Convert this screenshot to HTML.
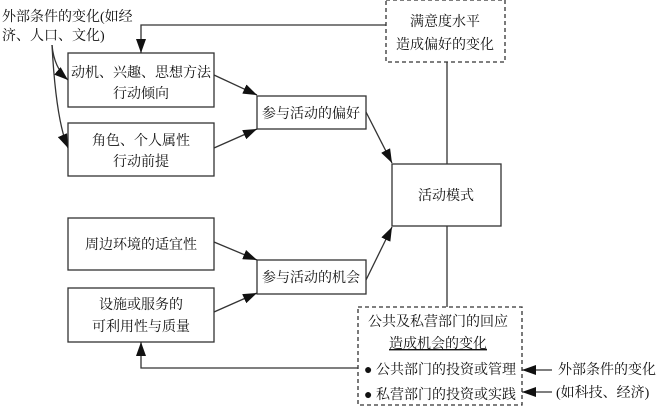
<!DOCTYPE html>
<html><head><meta charset="utf-8"><style>
body{margin:0;background:#fff;}
svg text{font-family:"Liberation Serif","Noto Serif CJK SC",serif;font-size:14px;fill:#111;}
</style></head><body>
<svg width="657" height="408" viewBox="0 0 657 408" xmlns="http://www.w3.org/2000/svg">
<defs><marker id="a" markerWidth="14" markerHeight="10" refX="14" refY="5" orient="auto" markerUnits="userSpaceOnUse"><path d="M0,0L14,5L0,10z" fill="#111"/></marker></defs>
<g fill="none" stroke="#333" stroke-width="1.3">
<rect x="68" y="53" width="146" height="54"/>
<rect x="68" y="123" width="146" height="53"/>
<rect x="257" y="96" width="109" height="33"/>
<rect x="392" y="164" width="109" height="62"/>
<rect x="68" y="218" width="146" height="52"/>
<rect x="68" y="288" width="146" height="54"/>
<rect x="257" y="260" width="109" height="34"/>
<rect x="386" y="0" width="119" height="62" stroke-dasharray="4,3"/>
<rect x="358" y="307" width="164" height="98" stroke-dasharray="4,3"/>
<path d="M447,62V164M447,226V307"/>
<path d="M386,25H141V53" marker-end="url(#a)"/>
<path d="M358,368H141V342" marker-end="url(#a)"/>
<path d="M214,75L257,95" marker-end="url(#a)"/>
<path d="M214,148L257,129" marker-end="url(#a)"/>
<path d="M366,112L392,163" marker-end="url(#a)"/>
<path d="M214,242L257,260" marker-end="url(#a)"/>
<path d="M214,312L257,293" marker-end="url(#a)"/>
<path d="M366,280L392,227" marker-end="url(#a)"/>
<path d="M52,45Q54,68 68,80" marker-end="url(#a)"/>
<path d="M52,45Q56,120 68,148" marker-end="url(#a)"/>
<path d="M552,370H522" marker-end="url(#a)"/>
<path d="M552,392H522" marker-end="url(#a)"/>
</g>
<text x="2" y="21">外部条件的变化(如经</text>
<text x="2" y="40">济、人口、文化)</text>
<text x="141" y="77" text-anchor="middle">动机、兴趣、思想方法</text>
<text x="141" y="98" text-anchor="middle">行动倾向</text>
<text x="141" y="145" text-anchor="middle">角色、个人属性</text>
<text x="141" y="166" text-anchor="middle">行动前提</text>
<text x="311" y="118" text-anchor="middle">参与活动的偏好</text>
<text x="446" y="200" text-anchor="middle">活动模式</text>
<text x="141" y="249" text-anchor="middle">周边环境的适宜性</text>
<text x="141" y="309" text-anchor="middle">设施或服务的</text>
<text x="141" y="331" text-anchor="middle">可利用性与质量</text>
<text x="311" y="282" text-anchor="middle">参与活动的机会</text>
<text x="445" y="26" text-anchor="middle">满意度水平</text>
<text x="445" y="49" text-anchor="middle">造成偏好的变化</text>
<text x="438" y="326" text-anchor="middle">公共及私营部门的回应</text>
<text x="438" y="348" text-anchor="middle" text-decoration="underline">造成机会的变化</text>
<text x="364" y="374">● 公共部门的投资或管理</text>
<text x="364" y="399">● 私营部门的投资或实践</text>
<text x="558" y="374">外部条件的变化</text>
<text x="556" y="397">(如科技、经济)</text>
</svg>
</body></html>
